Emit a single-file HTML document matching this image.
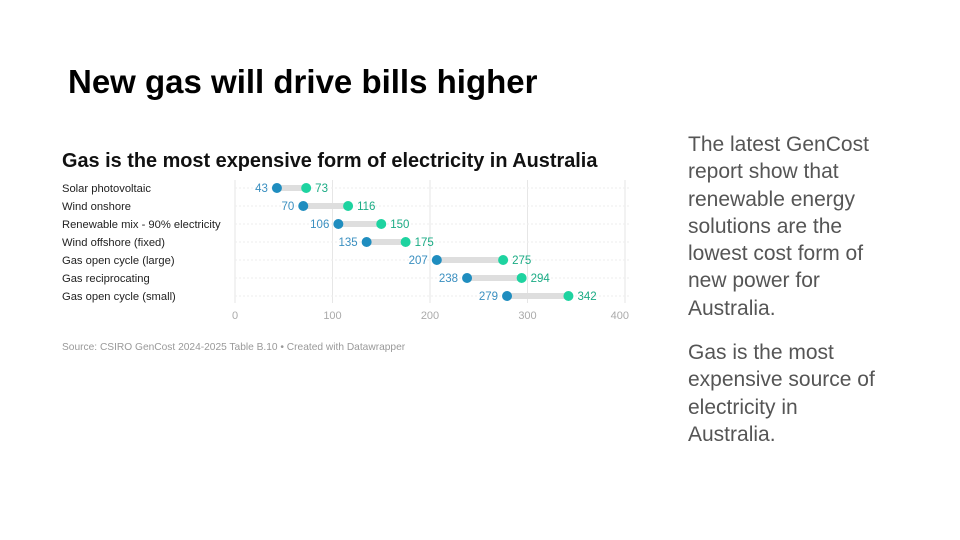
<!DOCTYPE html>
<html><head><meta charset="utf-8"><style>
body{margin:0;width:960px;height:540px;background:#fff;overflow:hidden;position:relative;font-family:"Liberation Sans",sans-serif}
#title{position:absolute;left:68px;top:63px;font-size:33px;font-weight:bold;color:#000}
#side{position:absolute;left:688px;top:131px;width:214px;font-size:21px;line-height:27.3px;color:#555}
#side p{margin:0 0 17px 0}
svg{position:absolute;left:0;top:0}
</style></head><body>
<div id="title">New gas will drive bills higher</div>
<div id="side"><p>The latest GenCost report show that renewable energy solutions are the lowest cost form of new power for Australia.</p><p>Gas is the most expensive source of electricity in<br>Australia.</p></div>
<svg id="chart" width="960" height="540">
<text x="62" y="167" font-size="19.9" font-weight="bold" fill="#111" font-family="Liberation Sans, sans-serif">Gas is the most expensive form of electricity in Australia</text>
<text x="62" y="350" font-size="10.2" fill="#999" font-family="Liberation Sans, sans-serif">Source: CSIRO GenCost 2024-2025 Table B.10 • Created with Datawrapper</text>
</svg>
<script>
const categories=["Solar photovoltaic","Wind onshore","Renewable mix - 90% electricity","Wind offshore (fixed)","Gas open cycle (large)","Gas reciprocating","Gas open cycle (small)"];
const lowValues=[43,70,106,135,207,238,279];
const highValues=[73,116,150,175,275,294,342];
const tickValues=[0,100,200,300,400];
const svg=document.getElementById('chart');
const NS='http://www.w3.org/2000/svg';
const x=v=>235+v*0.975;
const y=i=>188+i*18;
function mk(t,a,txt){const e=document.createElementNS(NS,t);for(const k in a)e.setAttribute(k,a[k]);if(txt!==undefined)e.textContent=txt;svg.appendChild(e);return e;}
tickValues.forEach((v,k)=>{
 const g=mk('line',{x1:x(v),x2:x(v),y1:180,y2:303,stroke:'#e6e6e6','stroke-width':1});
 
 
 const last=k===tickValues.length-1;
 const t=mk('text',{x:last?x(v)+4:x(v),y:319,'font-size':11,fill:'#aaa','text-anchor':last?'end':'middle','font-family':'Liberation Sans, sans-serif'},v);
 
 
});
categories.forEach((c,i)=>{
 const rl=mk('line',{x1:235,x2:630,y1:y(i),y2:y(i),stroke:'#eee','stroke-dasharray':'2,2'});
 
 
 const l=mk('text',{x:62,y:y(i)+4,'font-size':11.2,fill:'#222','font-family':'Liberation Sans, sans-serif'},c);
 
 
 const b=mk('line',{x1:x(lowValues[i]),x2:x(highValues[i]),y1:y(i),y2:y(i),stroke:'#dedede','stroke-width':6});
 
 
 const d1=mk('circle',{cx:x(lowValues[i]),cy:y(i),r:5,fill:'#1f8dbf'});
 
 
 const d2=mk('circle',{cx:x(highValues[i]),cy:y(i),r:5,fill:'#1ed3a0'});
 
 
 const t1=mk('text',{x:x(lowValues[i])-9,y:y(i)+4,'font-size':11.5,fill:'#3a8fc0','text-anchor':'end','font-family':'Liberation Sans, sans-serif'},lowValues[i]);
 
 
 const t2=mk('text',{x:x(highValues[i])+9,y:y(i)+4,'font-size':11.5,fill:'#1aab84','font-family':'Liberation Sans, sans-serif'},highValues[i]);
 
 
});
</script>
</body></html>
